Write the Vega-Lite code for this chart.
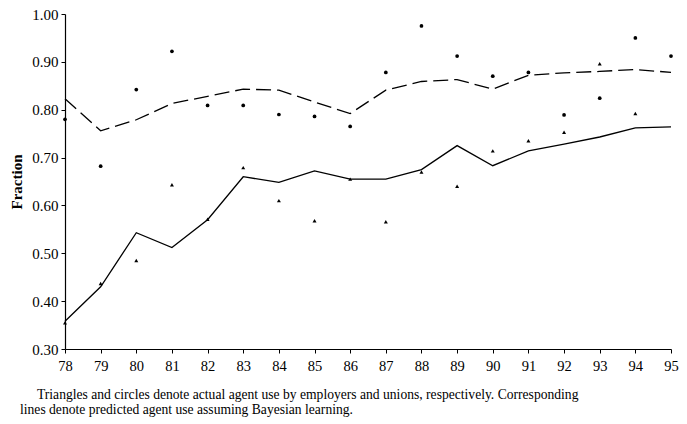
{
  "$schema": "https://vega.github.io/schema/vega-lite/v6.json",
  "width": 606,
  "height": 335,
  "autosize": "none",
  "padding": {"left": 65, "top": 14, "right": 16, "bottom": 75},
  "background": "white",
  "config": {
    "view": {"stroke": null},
    "font": "Liberation Serif",
    "axis": {"grid": false, "domainColor": "black", "tickColor": "black", "labelColor": "black", "titleColor": "black", "labelFont": "Liberation Serif", "titleFont": "Liberation Serif", "domainWidth": 1.2, "tickWidth": 1}
  },
  "title": {
    "text": ["\u200b\u00a0\u00a0\u00a0\u00a0\u00a0Triangles and circles denote actual agent use by employers and unions, respectively. Corresponding", "lines denote predicted agent use assuming Bayesian learning."],
    "orient": "bottom",
    "anchor": "start",
    "frame": "group",
    "dx": -45,
    "offset": 15,
    "font": "Liberation Serif",
    "fontSize": 13.6,
    "fontWeight": "normal",
    "color": "black",
    "lineHeight": 15
  },
  "data": {
    "values": [
      {"year": 78, "union": 0.780, "employer": 0.355, "union_pred": 0.823, "employer_pred": 0.358},
      {"year": 79, "union": 0.682, "employer": 0.437, "union_pred": 0.756, "employer_pred": 0.430},
      {"year": 80, "union": 0.842, "employer": 0.485, "union_pred": 0.779, "employer_pred": 0.543},
      {"year": 81, "union": 0.922, "employer": 0.643, "union_pred": 0.813, "employer_pred": 0.512},
      {"year": 82, "union": 0.809, "employer": 0.571, "union_pred": 0.828, "employer_pred": 0.570},
      {"year": 83, "union": 0.809, "employer": 0.679, "union_pred": 0.843, "employer_pred": 0.660},
      {"year": 84, "union": 0.790, "employer": 0.610, "union_pred": 0.841, "employer_pred": 0.648},
      {"year": 85, "union": 0.786, "employer": 0.568, "union_pred": 0.816, "employer_pred": 0.672},
      {"year": 86, "union": 0.765, "employer": 0.655, "union_pred": 0.792, "employer_pred": 0.655},
      {"year": 87, "union": 0.878, "employer": 0.566, "union_pred": 0.841, "employer_pred": 0.655},
      {"year": 88, "union": 0.975, "employer": 0.670, "union_pred": 0.859, "employer_pred": 0.675},
      {"year": 89, "union": 0.912, "employer": 0.640, "union_pred": 0.863, "employer_pred": 0.725},
      {"year": 90, "union": 0.870, "employer": 0.714, "union_pred": 0.843, "employer_pred": 0.683},
      {"year": 91, "union": 0.878, "employer": 0.735, "union_pred": 0.872, "employer_pred": 0.714},
      {"year": 92, "union": 0.789, "employer": 0.753, "union_pred": 0.877, "employer_pred": 0.728},
      {"year": 93, "union": 0.824, "employer": 0.896, "union_pred": 0.880, "employer_pred": 0.743},
      {"year": 94, "union": 0.950, "employer": 0.792, "union_pred": 0.884, "employer_pred": 0.762},
      {"year": 95, "union": 0.912, "employer": null, "union_pred": 0.878, "employer_pred": 0.764}
    ]
  },
  "encoding": {
    "x": {
      "field": "year",
      "type": "quantitative",
      "scale": {"domain": [78, 95], "nice": false, "zero": false},
      "axis": {"values": [78,79,80,81,82,83,84,85,86,87,88,89,90,91,92,93,94,95], "format": "d", "title": null, "labelFontSize": 14.5, "labelPadding": 6, "tickSize": 4, "labelFlush": false}
    }
  },
  "layer": [
    {
      "mark": {"type": "line", "color": "black", "strokeWidth": 1.3, "strokeDash": [15, 6]},
      "encoding": {
        "y": {
          "field": "union_pred",
          "type": "quantitative",
          "scale": {"domain": [0.3, 1.0], "nice": false, "zero": false},
          "axis": {"values": [0.3,0.4,0.5,0.6,0.7,0.8,0.9,1.0], "format": ".2f", "title": "Fraction", "titleFontWeight": "bold", "titleFontSize": 15, "titlePadding": 7, "labelFontSize": 15, "labelPadding": 3, "tickSize": 4, "labelFlush": false}
        }
      }
    },
    {
      "mark": {"type": "line", "color": "black", "strokeWidth": 1.3},
      "encoding": {"y": {"field": "employer_pred", "type": "quantitative"}}
    },
    {
      "mark": {"type": "point", "shape": "circle", "filled": true, "color": "black", "size": 14, "opacity": 1},
      "encoding": {"y": {"field": "union", "type": "quantitative"}}
    },
    {
      "transform": [{"filter": "datum.employer != null"}],
      "mark": {"type": "point", "shape": "triangle-up", "filled": true, "color": "black", "size": 16, "opacity": 1},
      "encoding": {"y": {"field": "employer", "type": "quantitative"}}
    }
  ]
}
